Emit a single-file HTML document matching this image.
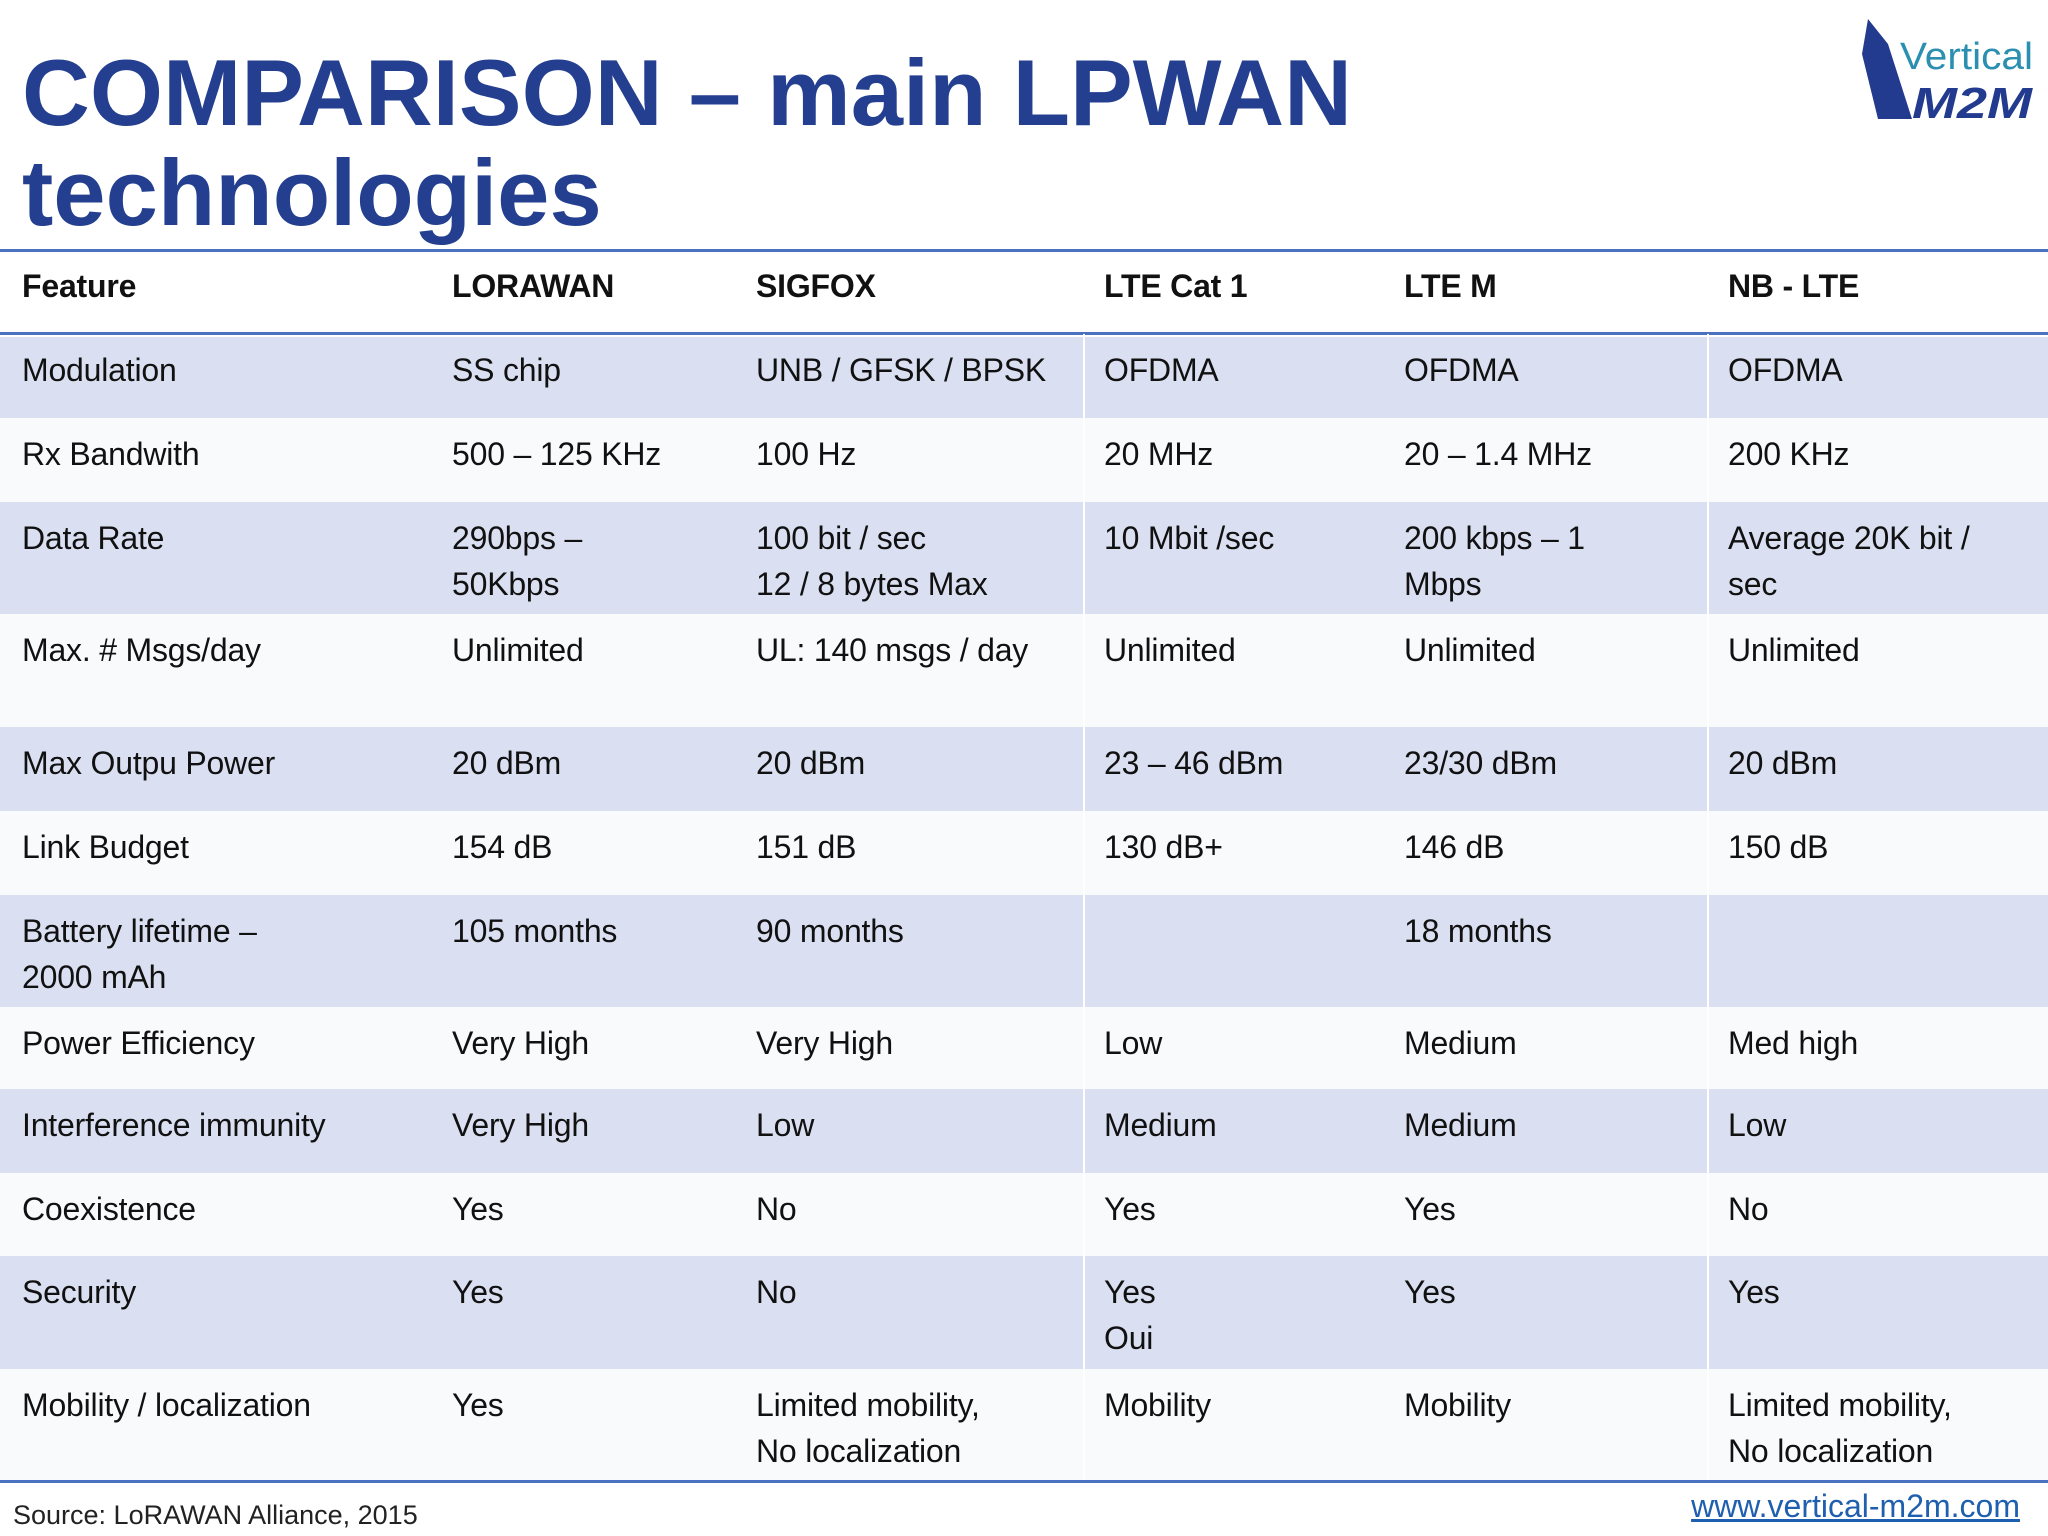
<!DOCTYPE html>
<html><head><meta charset="utf-8"><style>
body{margin:0;width:2048px;height:1536px;background:#fff;position:relative;overflow:hidden;font-family:"Liberation Sans",sans-serif}
.t{position:absolute;color:#243f8f;font-weight:bold;font-size:94px;left:22px;white-space:nowrap}
.row{position:absolute;left:0;width:2048px}
.c{position:absolute;font-size:32px;color:#111;line-height:46px;white-space:nowrap;letter-spacing:-0.2px}
.h{font-weight:bold}
.vl{position:absolute;width:2px;background:#fff}
.hl{position:absolute;left:0;width:2048px;height:3px;background:#4a72c0}
</style></head><body>
<div class="t" style="top:39px">COMPARISON – main LPWAN</div>
<div class="t" style="top:139px">technologies</div>
<svg style="position:absolute;left:1850px;top:14px" width="190" height="110" viewBox="0 0 190 110">
<polygon points="18,5 12,40 28,105 62,105 38,30" fill="#233b8e"/>
<text x="50" y="55" font-family="Liberation Sans" font-size="38" fill="#2a8fb0" textLength="133" lengthAdjust="spacingAndGlyphs">Vertical</text>
<text x="62" y="104" font-family="Liberation Sans" font-size="44" font-weight="bold" font-style="italic" fill="#233b8e" textLength="120" lengthAdjust="spacingAndGlyphs">M2M</text>
</svg>
<div class="hl" style="top:249px"></div>
<div id="tbl"></div>
<div class="hl" style="top:1480px"></div>
<div style="position:absolute;left:13px;top:1500px;font-size:27px;color:#222">Source: LoRAWAN Alliance, 2015</div>
<div style="position:absolute;right:28px;top:1488px;font-size:32px;color:#1f5fb0;text-decoration:underline">www.vertical-m2m.com</div>
<script>
const colX=[22,452,756,1104,1404,1728];
const header=["Feature","LORAWAN","SIGFOX","LTE Cat 1","LTE M","NB - LTE"];
const rowsY=[334,418,502,614,727,811,895,1007,1089,1173,1256,1369,1481];
const shaded=[1,0,1,0,1,0,1,0,1,0,1,0];
const data=[
["Modulation","SS chip","UNB / GFSK / BPSK","OFDMA","OFDMA","OFDMA"],
["Rx Bandwith","500 – 125 KHz","100 Hz","20 MHz","20 – 1.4 MHz","200 KHz"],
["Data Rate","290bps –<br>50Kbps","100 bit / sec<br>12 / 8 bytes Max","10 Mbit /sec","200 kbps – 1<br>Mbps","Average 20K bit /<br>sec"],
["Max. # Msgs/day","Unlimited","UL: 140 msgs / day","Unlimited","Unlimited","Unlimited"],
["Max Outpu Power","20 dBm","20 dBm","23 – 46 dBm","23/30 dBm","20 dBm"],
["Link Budget","154 dB","151 dB","130 dB+","146 dB","150 dB"],
["Battery lifetime –<br>2000 mAh","105 months","90 months","","18 months",""],
["Power Efficiency","Very High","Very High","Low","Medium","Med high"],
["Interference immunity","Very High","Low","Medium","Medium","Low"],
["Coexistence","Yes","No","Yes","Yes","No"],
["Security","Yes","No","Yes<br>Oui","Yes","Yes"],
["Mobility / localization","Yes","Limited mobility,<br>No localization","Mobility","Mobility","Limited mobility,<br>No localization"]];
const tbl=document.getElementById('tbl');
function cell(txt,x,y,cls){const d=document.createElement('div');d.className='c '+cls;d.style.left=x+'px';d.style.top=y+'px';d.innerHTML=txt;


tbl.appendChild(d);}
header.forEach((h,i)=>cell(h,colX[i],263,'h'));
const hl=document.createElement('div');hl.className='hl';hl.style.top='332px';


tbl.appendChild(hl);
data.forEach((r,ri)=>{
 const y0=rowsY[ri],y1=rowsY[ri+1];
 const bg=document.createElement('div');bg.className='row';bg.style.top=(y0+(ri==0?3:0))+'px';bg.style.height=(y1-y0-(ri==0?3:0))+'px';
 bg.style.background=shaded[ri]?'#dae0f1':'#f9fafc';
 
 
 tbl.appendChild(bg);
 [1083,1707].forEach(x=>{const v=document.createElement('div');v.className='vl';v.style.left=x+'px';v.style.top=y0+'px';v.style.height=(y1-y0)+'px';
 
 
 tbl.appendChild(v);});
 r.forEach((t,i)=>cell(t,colX[i],y0+13,''));
});
</script>
</body></html>
